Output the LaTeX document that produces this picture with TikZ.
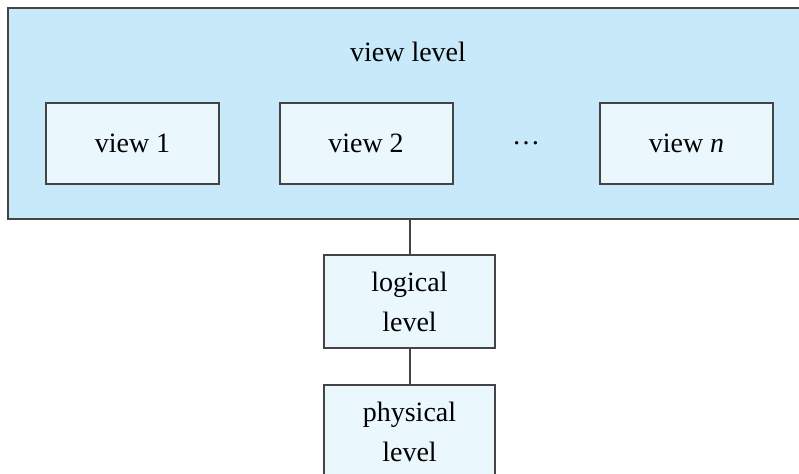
\documentclass[tikz,border=0pt]{standalone}
\usepackage{fontspec}
\setmainfont{Liberation Serif}
\usepackage{xcolor}
\usetikzlibrary{positioning}
\definecolor{outerblue}{RGB}{199,233,250}
\definecolor{innerblue}{RGB}{234,247,253}
\definecolor{edgegray}{RGB}{68,68,68}
\begin{document}
\begin{tikzpicture}[x=0.5pt,y=-0.5pt]
        \tikzstyle{levelbox}=[rectangle, draw = edgegray, line width = 1pt, fill = innerblue, inner sep = 0pt, align = center, font = \fontsize{14}{20}\selectfont]
        \tikzstyle{viewbox}=[levelbox, minimum width = 86.5pt, minimum height = 40.5pt]
        \tikzstyle{stackbox}=[levelbox, minimum width = 85.5pt, minimum height = 46.5pt]
        \tikzstyle{connect}=[draw = edgegray, line width = 1pt]
        \useasboundingbox (0,0) rectangle (799,473);
        \clip (0,0) rectangle (799,473);
        \node[rectangle, draw = edgegray, line width = 1pt, fill = outerblue, minimum width = 402pt, minimum height = 105.5pt, inner sep = 0pt] (outer) at (410,113.5) {};
        \node[font = \fontsize{14}{20}\selectfont] (viewlevel) at (408,52) {view level};
        \node[viewbox] (view1) at (132.5,143.5) {view 1};
        \node[viewbox] (view2) at (366,143.5) {view 2};
        \node[font = \fontsize{14}{20}\selectfont] (dots) at (526,143) {\dots};
        \node[viewbox] (viewn) at (686.5,143.5) {view \textit{n}};
        \node[stackbox] (logical) at (409.5,301.5) {logical\\level};
        \node[stackbox] (physical) [below=17.5pt of logical] {physical\\level};
        \path (logical.north |- outer.south) edge [connect] (logical.north)
        (logical) edge [connect] (physical);
      \end{tikzpicture}
\end{document}
